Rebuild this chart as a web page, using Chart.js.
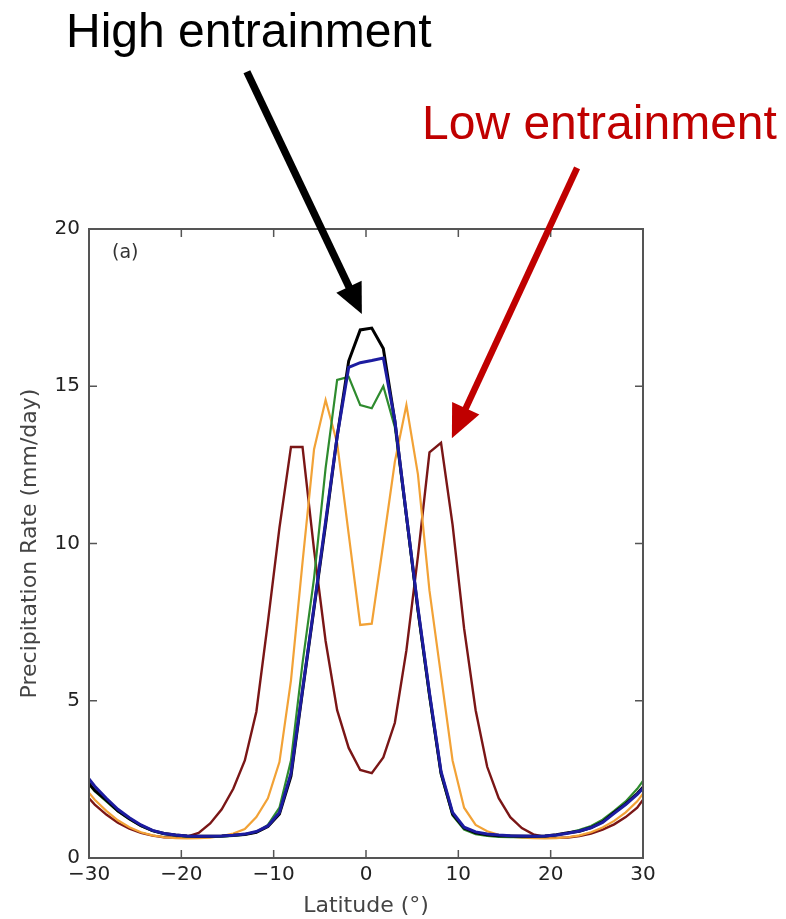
<!DOCTYPE html>
<html>
<head>
<meta charset="utf-8">
<script src="https://cdn.jsdelivr.net/npm/chart.js@4"></script>
<style>
  html, body { margin: 0; padding: 0; background: #fff; }
  #wrap { width: 786px; height: 919px; }
</style>
</head>
<body>
<div id="wrap"><canvas id="rainChart" width="786" height="919"></canvas></div>
<script>
// model grid latitudes (deg)
const latitudes = [
  -30.625, -29.375, -28.125, -26.875, -25.625, -24.375, -23.125, -21.875, -20.625, -19.375,
  -18.125, -16.875, -15.625, -14.375, -13.125, -11.875, -10.625, -9.375, -8.125, -6.875,
  -5.625, -4.375, -3.125, -1.875, -0.625, 0.625, 1.875, 3.125, 4.375, 5.625,
  6.875, 8.125, 9.375, 10.625, 11.875, 13.125, 14.375, 15.625, 16.875, 18.125,
  19.375, 20.625, 21.875, 23.125, 24.375, 25.625, 26.875, 28.125, 29.375, 30.625
];

// precipitation rate (mm/day), one list per run
const blueRate = [
  2.75, 2.28, 1.9, 1.55, 1.28, 1.05, 0.88, 0.78, 0.73, 0.7,
  0.69, 0.69, 0.7, 0.72, 0.76, 0.84, 1.02, 1.45, 2.7, 5.35,
  8.0, 10.7, 13.4, 15.6, 15.75, 15.82, 15.9, 13.9, 10.9, 7.95,
  5.25, 2.75, 1.45, 0.98, 0.83, 0.76, 0.73, 0.71, 0.7, 0.69,
  0.7, 0.73, 0.79, 0.86, 0.96, 1.13, 1.42, 1.7, 2.02, 2.42
];
const blackRate = [
  2.6, 2.15, 1.84, 1.5, 1.25, 1.03, 0.87, 0.78, 0.73, 0.7,
  0.69, 0.69, 0.7, 0.72, 0.75, 0.82, 1.0, 1.4, 2.6, 5.3,
  7.95, 10.6, 13.4, 15.8, 16.79, 16.85, 16.2, 13.9, 10.9, 7.9,
  5.2, 2.7, 1.4, 0.95, 0.8, 0.74, 0.71, 0.7, 0.69, 0.69,
  0.7, 0.74, 0.8, 0.85, 0.97, 1.15, 1.45, 1.72, 2.05, 2.45
];
const greenRate = [
  2.55, 2.12, 1.8, 1.48, 1.23, 1.02, 0.86, 0.76, 0.71, 0.68,
  0.67, 0.67, 0.68, 0.7, 0.74, 0.82, 1.05, 1.6, 3.1, 6.2,
  8.9, 12.4, 15.2, 15.3, 14.4, 14.3, 15.0, 13.7, 10.8, 7.8,
  5.1, 2.65, 1.35, 0.9, 0.76, 0.7, 0.67, 0.66, 0.66, 0.67,
  0.69, 0.73, 0.8, 0.9, 1.02, 1.22, 1.5, 1.8, 2.2, 2.7
];
const orangeRate = [
  2.3, 1.85, 1.5, 1.2, 0.98, 0.82, 0.72, 0.66, 0.63, 0.62,
  0.63, 0.65, 0.7, 0.78, 0.92, 1.3, 1.9, 3.05, 5.65, 9.4,
  13.0, 14.56, 13.2, 10.3, 7.41, 7.45, 10.0, 12.6, 14.4, 12.2,
  8.5, 5.8, 3.1, 1.6, 1.05, 0.85, 0.74, 0.68, 0.65, 0.63,
  0.62, 0.63, 0.66, 0.72, 0.82, 0.97, 1.18, 1.45, 1.8, 2.3
];
const redRate = [
  2.1, 1.7, 1.38, 1.12, 0.93, 0.8, 0.71, 0.66, 0.65, 0.68,
  0.8, 1.1, 1.55, 2.2, 3.1, 4.65, 7.5, 10.5, 13.07, 13.07,
  9.8, 6.9, 4.7, 3.5, 2.8, 2.7, 3.2, 4.3, 6.6, 9.6,
  12.9, 13.2, 10.6, 7.3, 4.7, 2.9, 1.9, 1.3, 0.95, 0.75,
  0.67, 0.64, 0.65, 0.7, 0.78, 0.9, 1.07, 1.3, 1.6, 2.1
];

const xTicks = [-30, -20, -10, 0, 10, 20, 30];
const yTicks = [0, 5, 10, 15, 20];

// arrows point at the curves, ends given in (latitude, rate)
const arrows = [
  { from: [-12.9, 25.0], to: [-0.45, 17.3], color: '#000000', width: 7.5, head: 30, half: 14 },
  { from: [22.86, 21.94], to: [9.3, 13.35], color: '#c00000', width: 6.5, head: 33, half: 15 }
];
const labels = [
  { text: 'High entrainment', x: 66, y: 47, color: '#000000' },
  { text: 'Low entrainment', x: 422, y: 139, color: '#c00000' }
];

function series(values, color, width) {
  return {
    data: latitudes.map((lat, i) => ({ x: lat, y: values[i] })),
    borderColor: color,
    borderWidth: width,
    pointRadius: 0,
    tension: 0,
    fill: false
  };
}

const overlay = {
  id: 'overlay',
  afterDatasetsDraw(chart) {
    const { ctx, chartArea: a, scales: { x, y } } = chart;
    ctx.save();
    ctx.strokeStyle = '#555';
    ctx.lineWidth = 2;
    ctx.strokeRect(a.left, a.top, a.right - a.left, a.bottom - a.top);

    ctx.lineWidth = 1.5;
    ctx.beginPath();
    xTicks.forEach(v => {
      const px = x.getPixelForValue(v);
      ctx.moveTo(px, a.bottom); ctx.lineTo(px, a.bottom - 8);
      ctx.moveTo(px, a.top); ctx.lineTo(px, a.top + 8);
    });
    yTicks.forEach(v => {
      const py = y.getPixelForValue(v);
      ctx.moveTo(a.left, py); ctx.lineTo(a.left + 8, py);
      ctx.moveTo(a.right, py); ctx.lineTo(a.right - 8, py);
    });
    ctx.stroke();

    ctx.fillStyle = '#333';
    ctx.font = '19px "DejaVu Sans"';
    ctx.textBaseline = 'middle';
    ctx.fillText('(a)', a.left + 23, a.top + 24);
    ctx.restore();
  },
  afterDraw(chart) {
    const { ctx, scales: { x, y } } = chart;
    ctx.save();
    arrows.forEach(ar => {
      const x0 = x.getPixelForValue(ar.from[0]), y0 = y.getPixelForValue(ar.from[1]);
      const x1 = x.getPixelForValue(ar.to[0]), y1 = y.getPixelForValue(ar.to[1]);
      const len = Math.hypot(x1 - x0, y1 - y0);
      const ux = (x1 - x0) / len, uy = (y1 - y0) / len;
      const bx = x1 - ux * ar.head, by = y1 - uy * ar.head;
      ctx.strokeStyle = ar.color;
      ctx.fillStyle = ar.color;
      ctx.lineWidth = ar.width;
      ctx.beginPath();
      ctx.moveTo(x0, y0);
      ctx.lineTo(bx + ux * 2, by + uy * 2);
      ctx.stroke();
      ctx.beginPath();
      ctx.moveTo(x1, y1);
      ctx.lineTo(bx - uy * ar.half, by + ux * ar.half);
      ctx.lineTo(bx + uy * ar.half, by - ux * ar.half);
      ctx.closePath();
      ctx.fill();
    });
    ctx.font = '48px "Liberation Sans", Arial, sans-serif';
    ctx.textBaseline = 'alphabetic';
    labels.forEach(l => {
      ctx.fillStyle = l.color;
      ctx.fillText(l.text, l.x, l.y);
    });
    ctx.restore();
  }
};

const tickFont = { family: 'DejaVu Sans', size: 20 };
const titleFont = { family: 'DejaVu Sans', size: 22 };

new Chart(document.getElementById('rainChart'), {
  type: 'line',
  data: {
    datasets: [
      series(blueRate, '#1c1ca0', 3),
      series(blackRate, '#000000', 3),
      series(greenRate, '#2e8b2e', 2.2),
      series(orangeRate, '#f2a236', 2.2),
      series(redRate, '#7a1616', 2.4)
    ]
  },
  options: {
    responsive: false,
    animation: false,
    layout: { padding: { top: 229, right: 143, left: 0, bottom: 0 } },
    plugins: { legend: { display: false }, tooltip: { enabled: false } },
    scales: {
      x: {
        type: 'linear',
        min: -30,
        max: 30,
        afterBuildTicks: s => { s.ticks = xTicks.map(v => ({ value: v })); },
        afterFit: s => { s.height = 61; },
        grid: { display: false, drawTicks: false },
        border: { display: false },
        ticks: {
          font: tickFont,
          color: '#222',
          padding: 5,
          maxRotation: 0,
          callback: v => String(v).replace('-', '\u2212')
        },
        title: {
          display: true,
          text: 'Latitude (\u00b0)',
          font: titleFont,
          color: '#444',
          padding: { top: 0, bottom: 0 }
        }
      },
      y: {
        min: 0,
        max: 20,
        afterBuildTicks: s => { s.ticks = yTicks.map(v => ({ value: v })); },
        afterFit: s => { s.width = 89; },
        grid: { display: false, drawTicks: false },
        border: { display: false },
        ticks: { font: tickFont, color: '#222', padding: 9 },
        title: {
          display: true,
          text: 'Precipitation Rate (mm/day)',
          font: titleFont,
          color: '#444',
          padding: { top: 17, bottom: 0 }
        }
      }
    }
  },
  plugins: [overlay]
});
</script>
</body>
</html>
